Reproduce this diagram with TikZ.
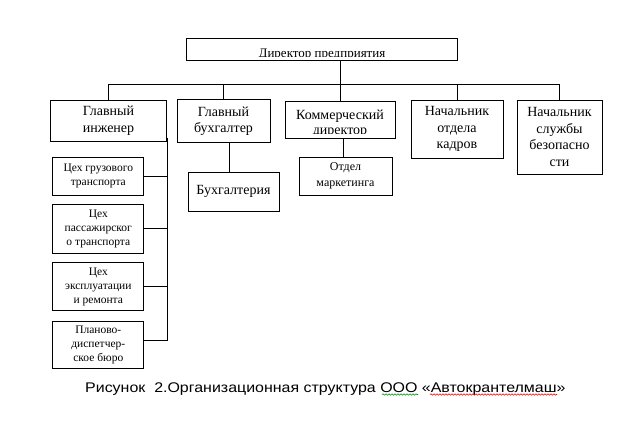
\documentclass[tikz,border=0pt]{standalone}
\usepackage{fontspec}
\setmainfont{Liberation Serif}
\newfontfamily\capfont{Liberation Sans}
\usetikzlibrary{decorations.pathmorphing}
\tikzset{
  unit/.style={draw, line width=1pt, rectangle, align=center, inner sep=0pt,
    font=\fontsize{14}{16.5}\selectfont},
  subunit/.style={unit, font=\fontsize{11.5}{13.8}\selectfont},
  link/.style={line width=1pt},
  squiggle/.style={decorate, decoration={snake, amplitude=0.7pt, segment length=3pt}, line width=0.6pt}
}
\begin{document}
\begin{tikzpicture}[x=1pt, y=-1pt]
\useasboundingbox (0,0) rectangle (637,421);

\node[unit, minimum width=271, minimum height=22.5] (dir) at (322,49.5) {};
\begin{scope}
\clip (188,40) rectangle (456,56.5);
\node[anchor=base, inner sep=0pt, font=\fontsize{13}{15}\selectfont] (dirtext) at (322,57) {Директор предприятия};
\end{scope}

\node[unit, minimum width=116, minimum height=41] (eng) at (108.5,120.5) {Главный\\инженер};
\node[unit, minimum width=93, minimum height=42.7] (buh) at (223.5,121.3) {Главный\\бухгалтер};
\node[unit, minimum width=110, minimum height=37] (kom) at (340,119.8) {};
\begin{scope}
\clip (287,103) rectangle (393,133);
\node[anchor=base, inner sep=0pt, font=\fontsize{14}{16}\selectfont] (komtext) at (340,119.3) {Коммерческий};
\node[anchor=base, inner sep=0pt, font=\fontsize{14}{16}\selectfont] (komtext2) at (340,134) {директор};
\end{scope}
\node[unit, minimum width=92, minimum height=58] (kad) at (457,129) {Начальник\\отдела\\кадров};
\node[unit, minimum width=85, minimum height=74] (sec) at (559.5,137) {Начальник\\службы\\безопасно\\сти};

\node[unit, minimum width=91, minimum height=38.7] (acc) at (233.5,191.7) {Бухгалтерия};
\node[unit, minimum width=93, minimum height=38, font=\fontsize{12}{16.5}\selectfont] (mkt) at (345.5,176) {Отдел\\маркетинга};

\node[subunit, minimum width=91.3, minimum height=37.7] (s1) at (98.3,176.2) {Цех грузового\\транспорта};
\node[subunit, minimum width=91.3, minimum height=49.3] (s2) at (98.3,228.7) {Цех\\пассажирског\\о транспорта};
\node[subunit, minimum width=91.3, minimum height=48] (s3) at (98.3,286.7) {Цех\\эксплуатации\\и ремонта};
\node[subunit, minimum width=91.3, minimum height=46.7] (s4) at (98.3,345) {Планово-\\диспетчер-\\ское бюро};

\coordinate (bus) at (0,84);
\draw[link] (dir.south -| kom.north) -- (kom.north);
\draw[link] (eng.north |- bus) -- (sec.north |- bus);
\foreach \n in {eng,buh,kad,sec}
{
  \draw[link] (\n.north) -- (\n.north |- bus);
}
\draw[link] ([xshift=5.5]buh.south) -- ([xshift=5.5]buh.south |- acc.north);
\draw[link] ([xshift=3]kom.south) -- ([xshift=3]kom.south |- mkt.north);

\draw[link] ([yshift=4]eng.south east) |- ([yshift=5]s4.east);
\foreach \s in {s1,s2,s3}
{
  \draw[link] (\s.east) -- (\s.east -| eng.east);
}

\node[anchor=base west, inner sep=0pt, font=\capfont\fontsize{14}{16}\selectfont] (caption) at (85,392) {\scalebox{1.14}[1]{Рисунок \ 2.Организационная структура ООО «Автокрантелмаш»}};
\draw[squiggle, green!60!black] (382,394.5) -- (418,394.5);
\draw[squiggle, red] (430,394.5) -- (557,394.5);

\end{tikzpicture}
\end{document}
